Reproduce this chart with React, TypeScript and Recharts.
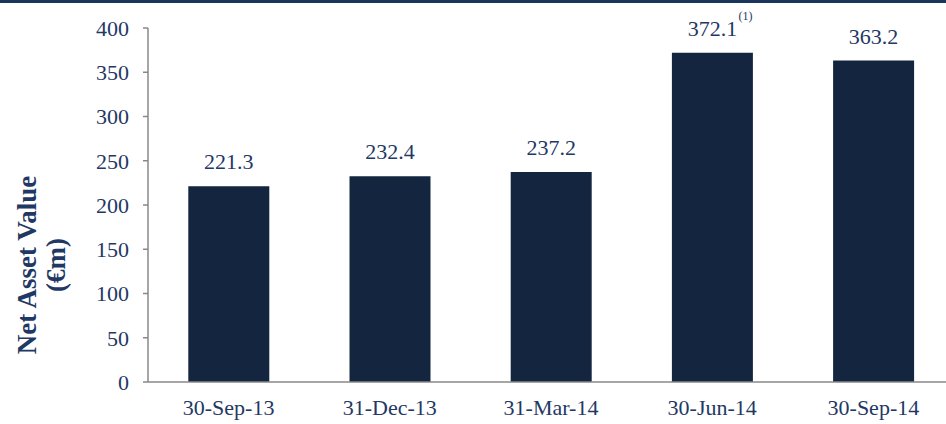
import React from 'react';
import { BarChart, Bar, XAxis, YAxis, LabelList } from 'recharts';

const categories = ['30-Sep-13', '31-Dec-13', '31-Mar-14', '30-Jun-14', '30-Sep-14'];
const navValues = [221.3, 232.4, 237.2, 372.1, 363.2];
const footnotes = ['', '', '', '(1)', ''];
const yTicks = [0, 50, 100, 150, 200, 250, 300, 350, 400];
const boundaryTicks = [0, 1, 2, 3, 4, 5];

const data = categories.map((name, i) => ({
  name,
  nav: navValues[i],
  note: footnotes[i],
  pos: i + 0.5,
}));

const TEXT = '#1f3864';
const AXIS = '#888888';
const BAR = '#13253f';
const FONT = '"Liberation Serif", "Times New Roman", serif';

function ValueLabel(props: any) {
  const { x, y, width, value, index } = props;
  const cx = x + width / 2;
  const note = footnotes[index];
  return (
    <g>
      <text x={cx} y={y - 17} textAnchor="middle" fill={TEXT} fontSize={22} fontFamily={FONT}>
        {Number(value).toFixed(1)}
      </text>
      {note ? (
        <text x={cx + 26} y={y - 33} textAnchor="start" fill={TEXT} fontSize={12} fontFamily={FONT}>
          {note}
        </text>
      ) : null}
    </g>
  );
}

function AxisTitle() {
  return (
    <text
      transform="translate(36, 265) rotate(-90)"
      textAnchor="middle"
      fill={TEXT}
      fontSize={27}
      fontWeight="bold"
      fontFamily={FONT}
    >
      <tspan x={0} dy={0}>Net Asset Value</tspan>
      <tspan x={0} dy={29}>(€m)</tspan>
    </text>
  );
}

export default function App() {
  return (
    <div style={{ position: 'absolute', left: 0, top: 0, width: 946, height: 424, overflow: 'hidden', background: '#fff' }}>
      <div style={{ position: 'absolute', left: 0, top: 0, width: 946, height: 3, background: '#1b365d' }} />
      <BarChart
        width={960}
        height={424}
        data={data}
        margin={{ top: 28, right: 6, bottom: 0, left: 0 }}
        barCategoryGap="25%"
      >
        <XAxis
          dataKey="name"
          height={42}
          axisLine={{ stroke: AXIS, strokeWidth: 1.5 }}
          tickLine={false}
          tickSize={0}
          tickMargin={17}
          interval={0}
          tick={{ fill: TEXT, fontSize: 22, fontFamily: FONT }}
        />
        <XAxis
          xAxisId="bounds"
          type="number"
          dataKey="pos"
          domain={[0, 5]}
          ticks={boundaryTicks}
          height={0}
          axisLine={false}
          tick={false}
          tickLine={{ stroke: AXIS, strokeWidth: 1.5 }}
          tickSize={6}
        />
        <YAxis
          width={148}
          domain={[0, 400]}
          ticks={yTicks}
          axisLine={{ stroke: AXIS, strokeWidth: 1.5 }}
          tickLine={{ stroke: AXIS, strokeWidth: 1.5 }}
          tickSize={5}
          tickMargin={14}
          tick={{ fill: TEXT, fontSize: 22, fontFamily: FONT }}
          label={<AxisTitle />}
        />
        <Bar dataKey="nav" fill={BAR} isAnimationActive={false}>
          <LabelList dataKey="nav" content={<ValueLabel />} />
        </Bar>
      </BarChart>
    </div>
  );
}
